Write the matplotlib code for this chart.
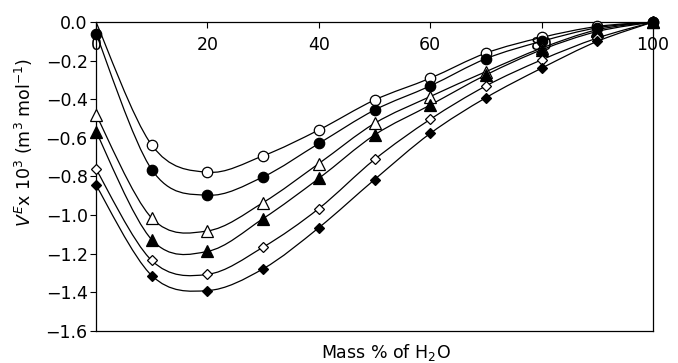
import numpy as np
import matplotlib
matplotlib.use("Agg")
import matplotlib.pyplot as plt
from matplotlib.path import Path
from matplotlib.patches import PathPatch

plt.rcParams['font.family'] = ['DejaVu Sans']
plt.rcParams['mathtext.fontset'] = 'dejavusans'

# mass % of water
mass_pct = [0, 10, 20, 30, 40, 50, 60, 70, 80, 90, 100]

# excess molar volume curves (top to bottom)
open_circle = [0.0, -0.637, -0.778, -0.693, -0.559, -0.404, -0.291, -0.161, -0.080, -0.023, 0.0]
filled_circle = [-0.060, -0.764, -0.897, -0.802, -0.629, -0.456, -0.331, -0.190, -0.100, -0.030, 0.0]
open_triangle = [-0.480, -1.015, -1.082, -0.935, -0.733, -0.525, -0.386, -0.257, -0.135, -0.040, 0.0]
filled_triangle = [-0.568, -1.127, -1.188, -1.018, -0.810, -0.585, -0.430, -0.274, -0.144, -0.049, 0.0]
open_diamond = [-0.762, -1.235, -1.307, -1.166, -0.966, -0.712, -0.504, -0.331, -0.196, -0.083, 0.0]
filled_diamond = [-0.845, -1.313, -1.391, -1.278, -1.065, -0.816, -0.577, -0.392, -0.239, -0.100, 0.0]

x_ticks = [0, 20, 40, 60, 80, 100]
y_ticks = [-1.6, -1.4, -1.2, -1.0, -0.8, -0.6, -0.4, -0.2, 0.0]


def smooth_path(x, y):
    # Excel-like smoothed line: cubic Bezier segments, Catmull-Rom control points
    pts = np.column_stack([x, y]).astype(float)
    n = len(pts)
    verts = [pts[0]]
    codes = [Path.MOVETO]
    for i in range(n - 1):
        p0 = pts[i - 1] if i > 0 else pts[i]
        p1 = pts[i]
        p2 = pts[i + 1]
        p3 = pts[i + 2] if i + 2 < n else pts[i + 1]
        c1 = p1 + (p2 - p0) / 6.0
        c2 = p2 - (p3 - p1) / 6.0
        verts += [c1, c2, p2]
        codes += [Path.CURVE4] * 3
    return Path(verts, codes)


fig = plt.figure(figsize=(6.78, 3.63), dpi=100)
ax = fig.add_axes([0.1416, 0.0882, 0.8216, 0.8512])

series = [
    (open_circle, 'o', 'white', 7.5),
    (filled_circle, 'o', 'black', 7.5),
    (open_triangle, '^', 'white', 8),
    (filled_triangle, '^', 'black', 8),
    (open_diamond, 'D', 'white', 5.5),
    (filled_diamond, 'D', 'black', 5.5),
]

for vals, mk, fc, ms in series:
    ax.add_patch(PathPatch(smooth_path(mass_pct, vals), facecolor='none',
                           edgecolor='black', lw=0.9, transform=ax.transData))
    every = slice(1, None) if vals is open_circle else None
    ax.plot(mass_pct, vals, linestyle='none', marker=mk, markersize=ms,
            markerfacecolor=fc, markeredgecolor='black', markeredgewidth=0.9,
            markevery=every, clip_on=False, zorder=3)

fs = 12.5
ax.set_xlim(0, 100)
ax.set_ylim(-1.6, 0.0)
ax.set_xticks(x_ticks)
ax.set_xticklabels([str(t) for t in x_ticks])
ax.set_yticks(y_ticks)
ax.set_yticklabels([f'{t:.1f}'.replace('-', '\u2212') for t in y_ticks])

ax.xaxis.tick_top()
ax.tick_params(axis='x', direction='in', length=4, width=0.8, pad=-23,
               labelsize=fs)
ax.tick_params(axis='y', direction='out', length=4, width=0.8, labelsize=fs,
               pad=2)
for sp in ax.spines.values():
    sp.set_linewidth(0.9)

ax.set_xlabel('Mass % of H$_2$O', fontsize=fs)
ax.xaxis.set_label_position('bottom')
ax.xaxis.set_label_coords(0.52, -0.035)
ax.set_ylabel(r'$V^E$x 10$^3$ (m$^3$ mol$^{-1}$)', fontsize=fs)
ax.yaxis.set_label_coords(-0.11, 0.61)

fig.savefig('out.png', dpi=100)
